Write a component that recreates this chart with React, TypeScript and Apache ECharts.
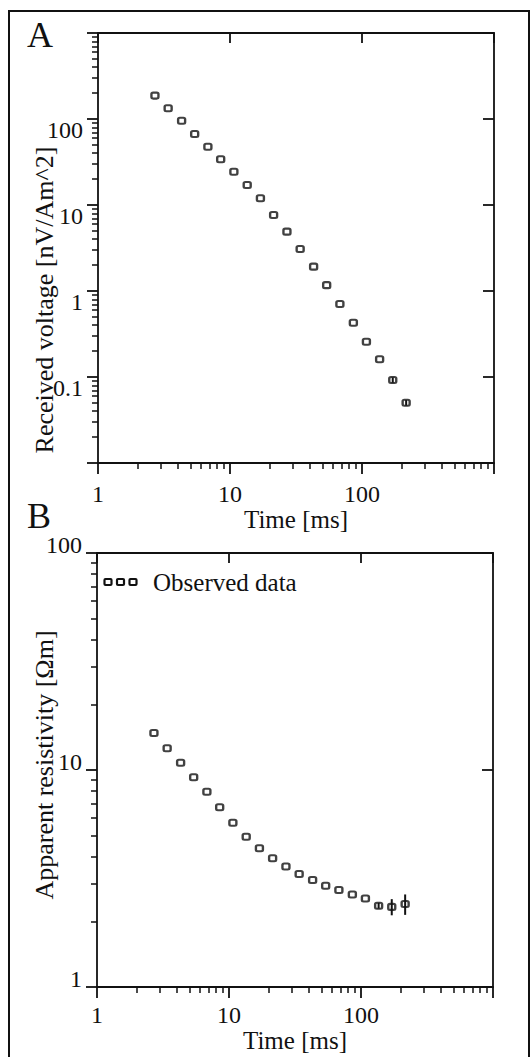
import React, { useEffect, useRef } from "react";
import * as echarts from "echarts";

// ---- data ----
const timeMs = [2.7, 3.4, 4.3, 5.4, 6.8, 8.5, 10.7, 13.5, 17, 21.4, 27, 34, 43, 54, 68, 86, 108, 136, 171, 216];
const voltage = [187, 133, 95.5, 67, 47.6, 34, 24.4, 17.1, 12.0, 7.65, 4.9, 3.08, 1.92, 1.17, 0.706, 0.428, 0.257, 0.161, 0.0923, 0.0502];
const voltageErr = [0, 0, 0, 0, 0, 0, 0, 0, 0, 0, 0, 0, 0, 0, 0, 0, 0, 0, 0.0065, 0.0037];
const resistivity = [14.8, 12.6, 10.8, 9.25, 7.94, 6.73, 5.72, 4.93, 4.36, 3.92, 3.59, 3.32, 3.11, 2.93, 2.8, 2.67, 2.56, 2.37, 2.34, 2.41];
const resistivityErr = [0, 0, 0, 0, 0, 0, 0, 0, 0, 0, 0, 0, 0, 0, 0, 0, 0, 0.07, 0.2, 0.26];

const timeTickLabels = ["1", "10", "100"];
const voltageTickLabels = ["0.1", "1", "10", "100"];
const resistivityTickLabels = ["1", "10", "100"];

const seriesName = "Observed data";
const titleA = "A";
const titleB = "B";
const xTitle = "Time [ms]";
const yTitleA = "Received voltage [nV/Am^2]";
const yTitleB = "Apparent resistivity [Ωm]";

const FONT = "'Liberation Serif', 'Times New Roman', serif";
const INK = "#111111";

const fmt = (list: string[]) => (v: number) => {
  const s = String(+Number(v).toPrecision(6));
  return list.includes(s) ? s : "";
};

const errData = (vals: number[], errs: number[]) =>
  timeMs
    .map((t, i) => [t, vals[i] - errs[i], vals[i] + errs[i], errs[i]])
    .filter((d) => d[3] > 0);

const errorBarRender = (params: any, api: any) => {
  const p1 = api.coord([api.value(0), api.value(1)]);
  const p2 = api.coord([api.value(0), api.value(2)]);
  return {
    type: "line",
    shape: { x1: p1[0], y1: p1[1], x2: p2[0], y2: p2[1] },
    style: { stroke: INK, lineWidth: 2 },
  };
};

const axisLine = { show: true, onZero: false, lineStyle: { color: INK, width: 1.8 } };

export default function App() {
  const ref = useRef<HTMLDivElement>(null);
  useEffect(() => {
    if (!ref.current) return;
    const chart = echarts.init(ref.current, undefined, { renderer: "svg" });

    const bottomX = (grid: number, labelMargin: number, nameGap: number) => ({
      type: "log",
      logBase: 10,
      gridIndex: grid,
      position: "bottom",
      min: 1,
      max: 1000,
      axisLine,
      axisTick: { show: true, inside: false, length: 11, lineStyle: { color: INK, width: 1.8 } },
      minorTick: { show: true, splitNumber: 9, length: 6, lineStyle: { color: INK, width: 1.5 } },
      splitLine: { show: false },
      minorSplitLine: { show: false },
      axisLabel: {
        show: true,
        margin: labelMargin,
        formatter: fmt(timeTickLabels),
        fontFamily: FONT,
        fontSize: 24,
        color: INK,
      },
      name: xTitle,
      nameLocation: "middle",
      nameGap,
      nameTextStyle: { fontFamily: FONT, fontSize: 25, color: INK },
    });
    const topX = (grid: number) => ({
      type: "log",
      logBase: 10,
      gridIndex: grid,
      position: "top",
      min: 1,
      max: 1000,
      axisLine,
      axisTick: { show: true, inside: true, length: 10, lineStyle: { color: INK, width: 1.8 } },
      axisLabel: { show: false },
      splitLine: { show: false },
    });
    const rightY = (grid: number, min: number, max: number) => ({
      type: "log",
      logBase: 10,
      gridIndex: grid,
      position: "right",
      min,
      max,
      axisLine,
      axisTick: { show: true, inside: true, length: 11, lineStyle: { color: INK, width: 1.8 } },
      axisLabel: { show: false },
      splitLine: { show: false },
    });
    const leftY = (grid: number, min: number, max: number, labels: string[], vAlign: string, lh: number) => ({
      type: "log",
      logBase: 10,
      gridIndex: grid,
      position: "left",
      min,
      max,
      axisLine,
      axisTick: { show: true, inside: false, length: 11, lineStyle: { color: INK, width: 1.8 } },
      minorTick: { show: true, splitNumber: 9, length: 6, lineStyle: { color: INK, width: 1.5 } },
      splitLine: { show: false },
      minorSplitLine: { show: false },
      axisLabel: {
        show: true,
        margin: 15,
        align: "right",
        verticalAlign: vAlign,
        lineHeight: lh,
        formatter: fmt(labels),
        fontFamily: FONT,
        fontSize: 24,
        color: INK,
      },
    });

    const markerStyle = { color: "#ffffff", borderColor: INK, borderWidth: 2.2 };
    const legendMarker = (x: number) => ({
      type: "rect",
      shape: { x, y: 579, width: 7, height: 6, r: 1 },
      style: { fill: "#fff", stroke: INK, lineWidth: 2.2 },
    });

    chart.setOption({
      animation: false,
      backgroundColor: "#ffffff",
      grid: [
        { left: 98, top: 33, width: 396, height: 430 },
        { left: 97, top: 553, width: 396, height: 434 },
      ],
      xAxis: [bottomX(0, 19, 41), topX(0), bottomX(1, 16, 30), topX(1)],
      yAxis: [
        leftY(0, 0.01, 1000, voltageTickLabels, "top", 22),
        rightY(0, 0.01, 1000),
        leftY(1, 1, 100, resistivityTickLabels, "bottom", 16),
        rightY(1, 1, 100),
      ],
      series: [
        {
          name: seriesName,
          type: "scatter",
          xAxisIndex: 0,
          yAxisIndex: 0,
          symbol: "roundRect",
          symbolSize: [7, 6],
          itemStyle: markerStyle,
          data: timeMs.map((t, i) => [t, voltage[i]]),
          z: 3,
        },
        {
          type: "custom",
          xAxisIndex: 0,
          yAxisIndex: 0,
          renderItem: errorBarRender,
          encode: { x: 0, y: [1, 2] },
          data: errData(voltage, voltageErr),
          z: 4,
        },
        {
          name: seriesName,
          type: "scatter",
          xAxisIndex: 2,
          yAxisIndex: 2,
          symbol: "roundRect",
          symbolSize: [7, 6],
          itemStyle: markerStyle,
          data: timeMs.map((t, i) => [t, resistivity[i]]),
          z: 3,
        },
        {
          type: "custom",
          xAxisIndex: 2,
          yAxisIndex: 2,
          renderItem: errorBarRender,
          encode: { x: 0, y: [1, 2] },
          data: errData(resistivity, resistivityErr),
          z: 4,
        },
      ],
      graphic: [
        {
          type: "rect",
          shape: { x: 9, y: 11, width: 520, height: 1050 },
          style: { fill: "none", stroke: INK, lineWidth: 2 },
          silent: true,
        },
        {
          type: "text",
          x: 27,
          y: 35,
          style: { text: titleA, font: `36px ${FONT}`, fill: INK, textAlign: "left", textVerticalAlign: "middle" },
        },
        {
          type: "text",
          x: 27,
          y: 516,
          style: { text: titleB, font: `36px ${FONT}`, fill: INK, textAlign: "left", textVerticalAlign: "middle" },
        },
        {
          type: "text",
          x: 44,
          y: 300,
          rotation: Math.PI / 2,
          style: { text: yTitleA, font: `26px ${FONT}`, fill: INK, textAlign: "center", textVerticalAlign: "middle" },
        },
        {
          type: "text",
          x: 44,
          y: 765,
          rotation: Math.PI / 2,
          style: { text: yTitleB, font: `26px ${FONT}`, fill: INK, textAlign: "center", textVerticalAlign: "middle" },
        },
        // legend: three markers + label
        legendMarker(104.5),
        legendMarker(117),
        legendMarker(129.5),
        {
          type: "text",
          x: 153,
          y: 582,
          style: { text: seriesName, font: `25px ${FONT}`, fill: INK, textAlign: "left", textVerticalAlign: "middle" },
        },
      ],
    });
    return () => chart.dispose();
  }, []);
  return (
    <div
      ref={ref}
      style={{ position: "fixed", left: 0, top: 0, width: 531, height: 1057, background: "#fff" }}
    />
  );
}
